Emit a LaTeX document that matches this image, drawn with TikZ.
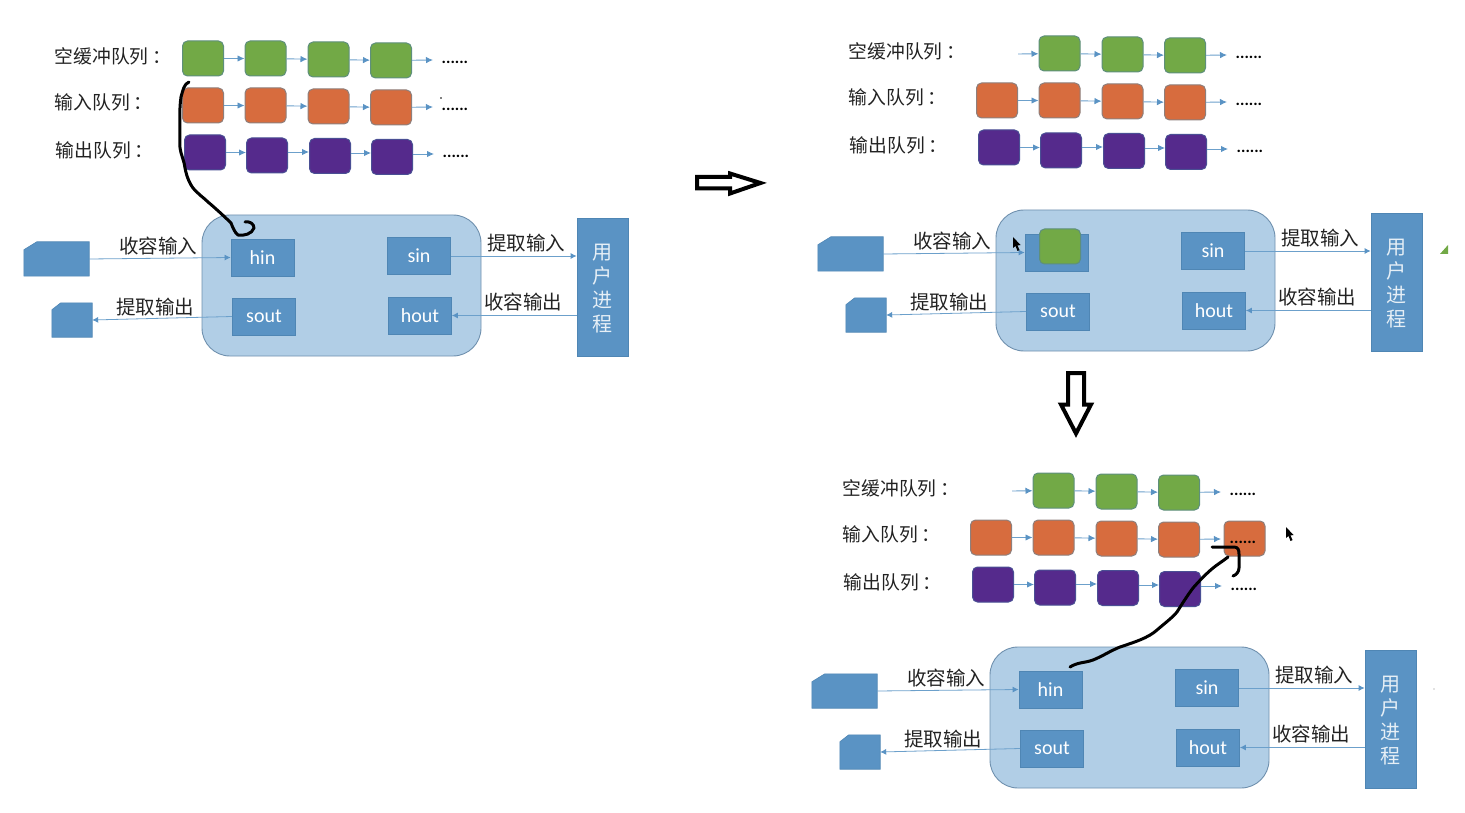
\documentclass[tikz,border=0pt]{standalone}
\usepackage{fontspec}
\setmainfont{Carlito}
\newfontfamily\cjk{Noto Sans CJK SC}
\usetikzlibrary{arrows.meta}
\definecolor{gfill}{HTML}{72A946}
\definecolor{gline}{HTML}{5E8F7C}
\definecolor{ofill}{HTML}{D76C3E}
\definecolor{oline}{HTML}{8E7F7C}
\definecolor{pfill}{HTML}{552A8C}
\definecolor{pline}{HTML}{4A4F94}
\definecolor{bfill}{HTML}{5A93C4}
\definecolor{bline}{HTML}{4F86B4}
\definecolor{cfill}{HTML}{B1CEE6}
\definecolor{cline}{HTML}{6F90AE}
\definecolor{aline}{HTML}{6CA0CB}
\definecolor{atip}{HTML}{5A93C4}
\definecolor{ink}{HTML}{222222}
\tikzset{
  qbox/.style={rectangle,rounded corners=5pt,line width=1pt,minimum width=41pt,minimum height=35pt,inner sep=0pt},
  gbox/.style={qbox,draw=gline,fill=gfill},
  obox/.style={qbox,draw=oline,fill=ofill},
  pbox/.style={qbox,draw=pline,fill=pfill},
  flow/.style={line width=0.9pt,draw=aline,-{Latex[length=7pt,width=6.5pt,color=atip]}},
  thin flow/.style={flow,line width=0.8pt,-{Latex[length=6pt,width=6pt,color=atip]}},
  qlabel/.style={anchor=west,inner sep=0pt,text=ink,font=\fontsize{18.8}{20}\selectfont\cjk},
  plabel/.style={inner sep=0pt,text=ink,font=\fontsize{19.5}{20}\selectfont\cjk},
  dots/.style={anchor=base west,inner sep=0pt,text=black,font=\fontsize{16.5}{20}\selectfont\bfseries},
  reg/.style={rectangle,draw=bline,fill=bfill,line width=0.8pt,minimum width=63pt,minimum height=37pt,inner sep=0pt,text=white,font=\fontsize{20}{22}\selectfont},
  kernel/.style={rectangle,rounded corners=28pt,draw=cline,fill=cfill,line width=0.9pt,minimum width=279pt,minimum height=141pt,inner sep=0pt},
  user/.style={rectangle,draw=bline,fill=bfill,line width=0.8pt,minimum width=51pt,minimum height=138pt,inner sep=0pt,text=white!85!bfill,align=center,font=\fontsize{20}{24}\selectfont\cjk},
  snip/.style={rectangle,minimum width=#1,inner sep=0pt},
  snipfill/.style={fill=bfill,draw=bline,line width=0.6pt},
  scrawl/.style={draw=black,line width=3pt,line cap=round,line join=round},
  bigarrow/.style={draw=black,line width=4pt,line join=miter,fill=white},
  speck/.style={fill=black}
}
% #1 prefix: common rows (orange, purple) and the kernel block
\newcommand{\panelbody}[1]{%
  \node[qlabel] (#1lo) at (54.5,102.5) {输入队列\hspace{4pt}：};
  \node[qlabel] (#1lp) at (55.5,150.5) {输出队列\hspace{4pt}：};
  \node[obox] (#1o1) at (203,105.5) {};
  \node[obox] (#1o2) at (265.5,105.5) {};
  \node[obox] (#1o3) at (328.5,106.5) {};
  \node[obox] (#1o4) at (391,107.5) {};
  \coordinate (#1oe) at (433,107);
  \draw[flow] (#1o1) -- (#1o2);
  \draw[flow] (#1o2) -- (#1o3);
  \draw[flow] (#1o3) -- (#1o4);
  \draw[flow] (#1o4) -- (#1oe);
  \node[pbox] (#1p1) at (205,152.5) {};
  \node[pbox] (#1p2) at (267,155.5) {};
  \node[pbox] (#1p3) at (330,156) {};
  \node[pbox] (#1p4) at (392,157) {};
  \coordinate (#1pe) at (434,154);
  \coordinate (#1ps2) at ([yshift=3.5pt]#1p2.east);
  \coordinate (#1ps3) at ([yshift=3pt]#1p3.east);
  \coordinate (#1ps4) at ([yshift=3pt]#1p4.east);
  \draw[flow] (#1p1.east) -- (#1p1.east -| #1p2.west);
  \draw[flow] (#1ps2) -- (#1ps2 -| #1p3.west);
  \draw[flow] (#1ps3) -- (#1ps3 -| #1p4.west);
  \draw[flow] (#1ps4) -- (#1pe);
  \node[dots] (#1dp) at (442.5,158) {......};
  \node[kernel] (#1k) at (341.5,285.5) {};
  \node[reg] (#1hin) at (262.5,257.5) {hin};
  \node[reg] (#1sin) at (419,256) {sin};
  \node[reg] (#1sout) at (264,316.5) {sout};
  \node[reg] (#1hout) at (420,315.5) {hout};
  \node[user] (#1u) at (602.5,287) {\rule{0pt}{18pt}用\\户\\进\\程};
  \node[snip=65pt,minimum height=34pt] (#1d1) at (56.5,259) {};
  \node[snip=40pt,minimum height=34pt] (#1d2) at (72,320) {};
  \path[snipfill] (#1d1.south west) -- (#1d1.south east) -- (#1d1.north east) -- ([xshift=13pt]#1d1.north west) -- ([yshift=-8pt]#1d1.north west) -- cycle;
  \path[snipfill] (#1d2.south west) -- (#1d2.south east) -- (#1d2.north east) -- ([xshift=9pt]#1d2.north west) -- ([yshift=-7pt]#1d2.north west) -- cycle;
  \draw[thin flow] (#1d1.east) -- (#1hin.west);
  \draw[thin flow] (#1sout.west) -- (#1d2.east);
  \draw[thin flow] (#1sin.east) -- (#1sin.east -| #1u.west);
  \draw[thin flow] (#1hout.east -| #1u.west) -- (#1hout.east);
  \node[plabel] (#1t1) at (158,246) {收容输入};
  \node[plabel] (#1t2) at (155,307) {提取输出};
  \node[plabel] (#1t3) at (526,243.5) {提取输入};
  \node[plabel] (#1t4) at (523,302) {收容输出};
}
% green row without its first box
\newcommand{\greenrow}[1]{%
  \node[qlabel] (#1lg) at (54.5,56.5) {空缓冲队列\hspace{4pt}：};
  \node[gbox] (#1g2) at (265.5,58.5) {};
  \node[gbox] (#1g3) at (328.5,59.5) {};
  \node[gbox] (#1g4) at (391,60.5) {};
  \coordinate (#1ge) at (433,60);
  \draw[flow] (#1g2) -- (#1g3);
  \draw[flow] (#1g3) -- (#1g4);
  \draw[flow] (#1g4) -- (#1ge);
  \node[dots] (#1dg) at (441.5,63.5) {......};
}
\begin{document}
\begin{tikzpicture}[x=1pt,y=-1pt]
\useasboundingbox (0,0) rectangle (1465,813);
% ---------- panel 1
\greenrow{a}
\node[gbox] (ag1) at (203,58.5) {};
\draw[flow] (ag1) -- (ag2);
\panelbody{a}
\node[dots] (ado) at (441.5,111) {......};
\fill[speck] (441,98) circle (0.8pt);
\draw[scrawl] (189,82) .. controls (184,84) and (183,90) .. (181,97)
  .. controls (179,110) and (180,130) .. (180,148)
  .. controls (181,155) and (184,160) .. (185,168)
  .. controls (187,178) and (190,184) .. (193,188)
  .. controls (198,194) and (204,198) .. (208,202)
  .. controls (214,207) and (225,217) .. (231,223)
  .. controls (233,228) and (235,233) .. (238,235)
  .. controls (244,236) and (252,234) .. (254,228)
  .. controls (254,224) and (250,221) .. (245,222);
% ---------- hollow arrows between panels
\path[bigarrow] (697,177) -- (730,177) -- (730,173.5) -- (760.5,183) -- (730,193.5) -- (730,188.5) -- (697,188.5) -- cycle;
\path[bigarrow] (1068,373) -- (1084,373) -- (1084,404.5) -- (1091,404.5) -- (1076,433.5) -- (1061,404.5) -- (1068,404.5) -- cycle;
% ---------- panel 2
\begin{scope}[shift={(794,-5)}]
\greenrow{b}
\coordinate (bgs) at (224,59);
\draw[flow] (bgs) -- (bg2);
\panelbody{b}
\node[dots] (bdo) at (441.5,111) {......};
\node[gbox] (bgx) at (266,251.5) {};
\end{scope}
\fill[speck] (1013,237) -- (1013,248) -- (1015.5,246) -- (1017.5,251) -- (1019.5,250) -- (1017.5,245.5) -- (1020.5,245) -- cycle;
\fill[gfill] (1448,245) -- (1448,254) -- (1440,254) -- cycle;
% ---------- panel 3
\begin{scope}[shift={(788,432)}]
\greenrow{c}
\coordinate (cgs) at (224,59);
\draw[flow] (cgs) -- (cg2);
\panelbody{c}
\node[obox] (co5) at (456.5,106.5) {};
\node[dots] (cdo) at (441.5,111) {......};
\end{scope}
\draw[scrawl] (1070,667) .. controls (1078,662) and (1085,663) .. (1093,660)
  .. controls (1103,656) and (1110,651) .. (1120,647)
  .. controls (1135,642) and (1148,638) .. (1157,630)
  .. controls (1165,623) and (1172,618) .. (1177,612)
  .. controls (1182,604) and (1187,596) .. (1193,588)
  .. controls (1200,580) and (1207,573) .. (1213,568)
  .. controls (1218,564) and (1223,561) .. (1228,557);
\draw[scrawl] (1212,547) -- (1234,547) .. controls (1238,547) and (1239,550) .. (1239,554) -- (1239,568) .. controls (1239,572) and (1236,575) .. (1233,576);
\fill[speck] (1286,527) -- (1286,538) -- (1288.5,536) -- (1290.5,541) -- (1292.5,540) -- (1290.5,535.5) -- (1293.5,535) -- cycle;
\fill[black!50] (1434,689) circle (0.6pt);
\end{tikzpicture}
\end{document}
